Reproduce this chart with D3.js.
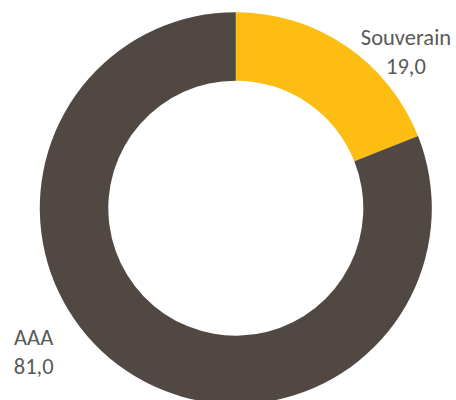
<!DOCTYPE html>
<meta charset="utf-8">
<style>
body { margin: 0; background: #fff; }
text {
  font-family: Calibri, Carlito, Lato, sans-serif;
  font-size: 22.5px;
  fill: #595959;
}
</style>
<svg width="456" height="400"></svg>
<script src="https://d3js.org/d3.v7.min.js"></script>
<script>

// data
var categories = ["Souverain", "AAA"];
var values = [19.0, 81.0];
var colors = ["#FDBD13", "#514843"];

var svg = d3.select("svg"),
    width = +svg.attr("width"),
    height = +svg.attr("height");

var cx = 235.8, cy = 208.2;
var outerR = 196, innerR = 127.5;

var g = svg.append("g").attr("transform", "translate(" + cx + "," + cy + ")");

var pie = d3.pie().sort(null).value(function(d) { return d; });
var arc = d3.arc().innerRadius(innerR).outerRadius(outerR);

var arcs = pie(values);

g.selectAll("path")
  .data(arcs)
  .enter().append("path")
    .attr("d", arc)
    .attr("fill", function(d, i) { return colors[i]; });

// labels sit next to the outer edge of each slice, nudged like excel does
var labelNudge = [[60, -1], [-92, -25]];

var fmt = function(v) { return v.toFixed(1).replace(".", ","); };

var labels = g.selectAll("g.label")
  .data(arcs)
  .enter().append("g")
    .attr("class", "label")
    .attr("transform", function(d, i) {
      var a = (d.startAngle + d.endAngle) / 2;
      var x = Math.sin(a) * outerR + labelNudge[i][0],
          y = -Math.cos(a) * outerR + labelNudge[i][1];
      return "translate(" + x + "," + y + ")";
    });

labels.append("text")
  .attr("text-anchor", "middle")
  .attr("y", 0)
  .text(function(d, i) { return categories[i]; });

labels.append("text")
  .attr("text-anchor", "middle")
  .attr("y", 28.5)
  .text(function(d) { return fmt(d.value); });

</script>
